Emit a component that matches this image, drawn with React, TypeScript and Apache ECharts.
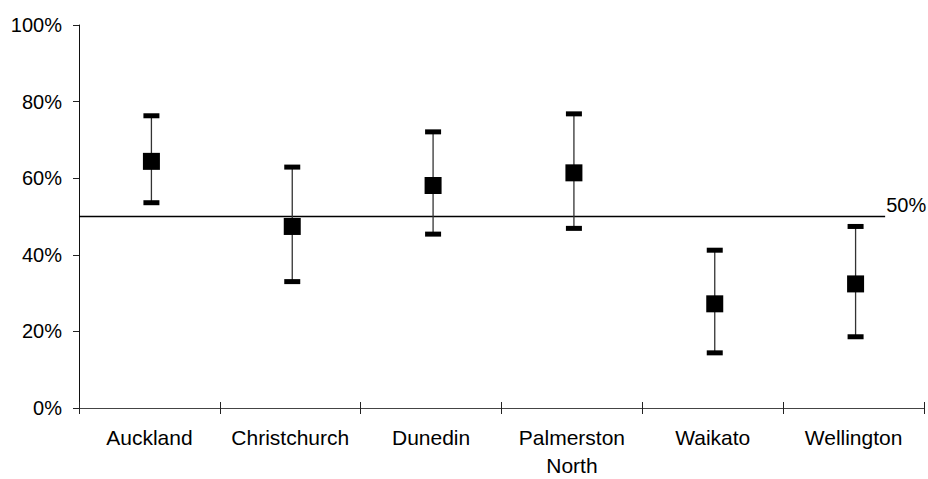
import React, { useEffect, useRef } from "react";
import * as echarts from "echarts";

const categories = ["Auckland", "Christchurch", "Dunedin", "Palmerston\nNorth", "Waikato", "Wellington"];
const estimates = [64.4, 47.4, 58.1, 61.4, 27.2, 32.4];
const lowerBounds = [53.6, 33.0, 45.4, 46.9, 14.4, 18.6];
const upperBounds = [76.3, 62.9, 72.1, 76.8, 41.2, 47.4];
const referenceValue = 50;
const referenceEnd = 5.724; // in category units along the x axis
const referenceLabel = "50%";
const yTicks = [0, 20, 40, 60, 80, 100];

export default function App() {
  const ref = useRef<HTMLDivElement>(null);
  useEffect(() => {
    if (!ref.current) return;
    const chart = echarts.init(ref.current, undefined, { renderer: "svg" });
    const font = "'Liberation Sans', Arial, Helvetica, sans-serif";
    const shift = 2;
    const errData = categories.map((_, i) => [i, lowerBounds[i], upperBounds[i]]);
    chart.setOption({
      animation: false,
      backgroundColor: "#fff",
      grid: { left: 79, right: 4, top: 25, bottom: 69 },
      xAxis: [
        {
          type: "category",
          data: categories,
          boundaryGap: true,
          axisLine: { show: true, lineStyle: { color: "#444", width: 1 } },
          axisTick: { show: true, inside: false, length: 6, lineStyle: { color: "#222" } },
          axisLabel: { color: "#000", fontFamily: font, fontSize: 21, lineHeight: 28, margin: 15, interval: 0 },
          splitLine: { show: false },
        },
        {
          type: "category",
          data: categories,
          boundaryGap: true,
          position: "bottom",
          axisLine: { show: false },
          axisTick: { show: true, inside: true, length: 6, lineStyle: { color: "#222" } },
          axisLabel: { show: false },
          splitLine: { show: false },
        },
        { type: "value", min: 0, max: 6, show: false },
      ],
      yAxis: {
        type: "value",
        min: 0,
        max: 100,
        interval: 20,
        axisLine: { show: true, lineStyle: { color: "#111", width: 1 } },
        axisTick: { show: true, length: 6, lineStyle: { color: "#222" } },
        axisLabel: {
          color: "#000",
          fontFamily: font,
          fontSize: 20,
          margin: 17,
          formatter: (v: number) => (yTicks.includes(v) ? v + "%" : ""),
        },
        splitLine: { show: false },
      },
      series: [
        {
          type: "line",
          xAxisIndex: 2,
          data: [
            [0, referenceValue],
            [referenceEnd, referenceValue],
          ],
          symbol: "none",
          lineStyle: { color: "#000", width: 1.6 },
          silent: true,
          z: 3,
          endLabel: {
            show: true,
            formatter: referenceLabel,
            color: "#000",
            fontFamily: font,
            fontSize: 20,
            distance: 1,
            offset: [0, -12],
          },
        },
        {
          type: "custom",
          xAxisIndex: 0,
          data: errData,
          z: 4,
          renderItem: (params: any, api: any) => {
            const i = api.value(0);
            const lo = api.coord([i, api.value(1)]);
            const hi = api.coord([i, api.value(2)]);
            const x = lo[0] + shift;
            const capW = 16;
            const capH = 5;
            return {
              type: "group",
              children: [
                {
                  type: "line",
                  shape: { x1: x, y1: hi[1], x2: x, y2: lo[1] },
                  style: { stroke: "#333", lineWidth: 1.3 },
                },
                {
                  type: "rect",
                  shape: { x: x - capW / 2, y: hi[1] - capH / 2, width: capW, height: capH },
                  style: { fill: "#000" },
                },
                {
                  type: "rect",
                  shape: { x: x - capW / 2, y: lo[1] - capH / 2, width: capW, height: capH },
                  style: { fill: "#000" },
                },
              ],
            };
          },
        },
        {
          type: "scatter",
          xAxisIndex: 0,
          data: estimates,
          symbol: "rect",
          symbolSize: 17,
          symbolOffset: [shift, 0],
          itemStyle: { color: "#000", opacity: 1 },
          emphasis: { disabled: true },
          z: 5,
        },
      ],
    });
    return () => chart.dispose();
  }, []);
  return <div ref={ref} style={{ position: "fixed", left: 0, top: 0, width: 928, height: 479 }} />;
}
